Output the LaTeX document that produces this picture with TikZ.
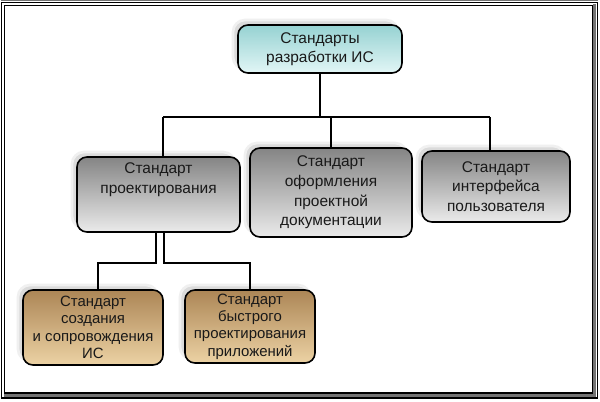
\documentclass[tikz,border=0pt]{standalone}
\usepackage{fontspec}
\setmainfont{Liberation Sans}
\begin{document}
\begin{tikzpicture}[x=0.75pt,y=-0.75pt,
  box/.style={draw=black,line width=1.2pt,rounded corners=7.5pt,align=center,
    font=\fontsize{11.6}{14.8}\selectfont,text=black!90,inner sep=0pt},
  graybox/.style={box,top color=black!48,bottom color=black!8},
  brownbox/.style={box,font=\fontsize{11.2}{13}\selectfont,top color={rgb,255:red,172;green,134;blue,86},bottom color={rgb,255:red,236;green,210;blue,164}},
  cyanbox/.style={box,font=\fontsize{11.6}{14}\selectfont,top color={rgb,255:red,150;green,210;blue,210},bottom color={rgb,255:red,226;green,246;blue,246}},
  txt/.style={align=center,font=\fontsize{11.6}{14.8}\selectfont,text=black!90,inner sep=0pt},
  glow/.style={fill=black!14,draw=black!6,line width=2pt,rounded corners=9pt},
  conn/.style={line width=1.5pt,black}]
\useasboundingbox (0,0) rectangle (600,401);
\fill[white] (0,0) rectangle (600,401);
% frame
\draw[black!55,line width=1pt] (0.5,0.5) -- (598,0.5);
\draw[black,line width=1pt] (1.5,2.5) rectangle (597.5,398);
\draw[black!55,line width=2.5pt] (594.5,4) -- (594.5,395.5) -- (4,395.5);
\draw[black,line width=1pt] (4.5,5.5) rectangle (592.5,393);
% glows
\fill[glow] (233,20) rectangle (398,69);
\fill[glow] (72,152) rectangle (235,228);
\fill[glow] (245,143) rectangle (407,233);
\fill[glow] (417,146) rectangle (565,218);
\fill[glow] (18,285) rectangle (158,361);
\fill[glow] (180,285) rectangle (310,359);
% connector points
\coordinate (busL) at (163,117);
\coordinate (busR) at (490,117);
\coordinate (j1) at (98,263);
\coordinate (j2) at (250,263);
\coordinate (d1) at (156,240);
\coordinate (d2) at (164,240);
% nodes
\node[cyanbox,minimum width=123pt,minimum height=36pt] (T) at (320,49) {Стандарты\\разработки ИС};
\node[graybox,minimum width=122.25pt,minimum height=56.25pt] (P) at (158.5,194.5) {};
\node[txt] (Pt) at (158.5,180) {Стандарт\\проектирования};
\node[graybox,minimum width=121.5pt,minimum height=66.75pt] (O) at (331,192.5) {Стандарт\\оформления\\проектной\\документации};
\node[graybox,minimum width=111pt,minimum height=53.25pt] (I) at (496,186.5) {Стандарт\\интерфейса\\пользователя};
\node[brownbox,minimum width=105pt,minimum height=56.25pt] (BL) at (93,327.5) {Стандарт\\создания\\и сопровождения\\ИС};
\node[brownbox,minimum width=97.5pt,minimum height=54.75pt] (BR) at (250,326.5) {Стандарт\\быстрого\\проектирования\\приложений};
% connectors
\draw[conn] (T.south) -- (T.south |- busL);
\draw[conn] (busL) -- (busR);
\draw[conn] (busL) -- (busL |- P.north);
\draw[conn] (O.north |- busL) -- (O.north);
\draw[conn] (busR) -- (busR |- I.north);
\draw[conn] (d1 |- P.south) -- (d1 |- j1) -- (j1) -- (j1 |- BL.north);
\draw[conn] (d2 |- P.south) -- (d2 |- j2) -- (j2) -- (j2 |- BR.north);
\end{tikzpicture}
\end{document}
